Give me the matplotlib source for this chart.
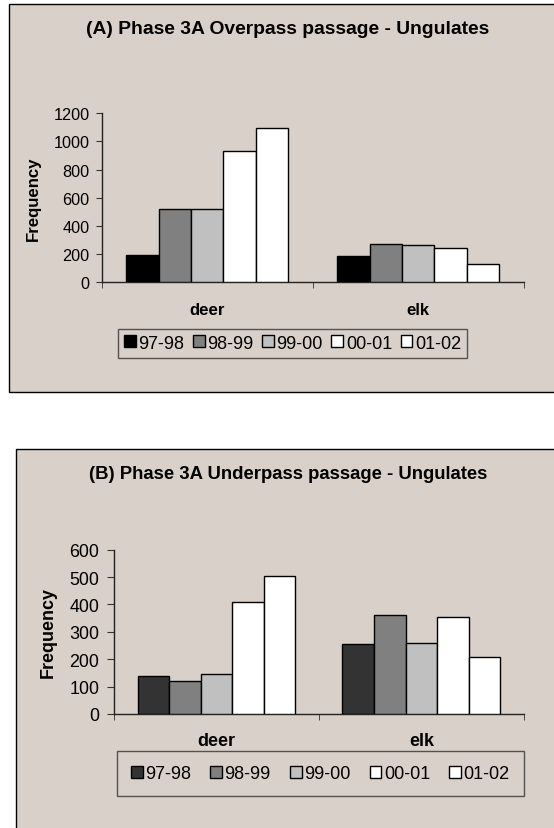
import numpy as np
import matplotlib.pyplot as plt
from matplotlib.patches import Rectangle

plt.rcParams['font.family'] = ['Liberation Sans', 'DejaVu Sans']

species = ["deer", "elk"]
years = ["97-98", "98-99", "99-00", "00-01", "01-02"]

overpass = {
    "97-98": [196, 185],
    "98-99": [520, 270],
    "99-00": [517, 265],
    "00-01": [932, 246],
    "01-02": [1096, 132],
}
underpass = {
    "97-98": [138, 256],
    "98-99": [122, 362],
    "99-00": [147, 259],
    "00-01": [408, 353],
    "01-02": [505, 209],
}

colors_a = ["#000000", "#808080", "#c0c0c0", "#ffffff", "#ffffff"]
colors_b = ["#333333", "#808080", "#c0c0c0", "#ffffff", "#ffffff"]
bg = "#d9d0c9"

W, H = 554, 829
fig = plt.figure(figsize=(W / 100, H / 100), dpi=100)
fig.patch.set_facecolor("white")


def px(x0, y0, x1, y1):
    # pixel box (top-left origin) -> figure fraction [left, bottom, width, height]
    return [x0 / W, 1 - y1 / H, (x1 - x0) / W, (y1 - y0) / H]


# chart frames, behind the axes
for box in [(9.3, 5, 570, 393), (16, 450, 570, 840)]:
    l, b, w, h = px(*box)
    fig.patches.append(Rectangle((l, b), w, h, transform=fig.transFigure,
                                 facecolor=bg, edgecolor="black", lw=1.0, zorder=-5))


def draw(rect, data, colors, ymax, step, title, tsize, title_xy, ylab_xy, fs, lab_fs,
         ticklen, tickpad, labpad, leg_xy, leg_fs, colspace, bpad):
    ax = fig.add_axes(px(*rect))
    ax.set_facecolor("none")
    x = np.arange(len(species))
    w = 1 / 6.5
    for i, yr in enumerate(years):
        ax.bar(x + (i - 2) * w, data[yr], width=w, color=colors[i],
               edgecolor="black", linewidth=1.0, label=yr, zorder=3)
    ax.set_xlim(-0.5, 1.5)
    ax.set_ylim(0, ymax)
    ax.set_yticks(np.arange(0, ymax + 1, step))
    ax.set_xticks(x)
    ax.set_xticklabels(species, fontsize=lab_fs, fontweight="bold")
    ax.set_xticks([-0.5, 0.5, 1.5], minor=True)
    ax.tick_params(axis="x", which="major", length=0, pad=labpad)
    ax.tick_params(axis="x", which="minor", length=4, direction="out", color="#333333")
    ax.tick_params(axis="y", length=ticklen, direction="out", labelsize=fs, pad=tickpad,
                   color="#333333")
    for s in ["top", "right"]:
        ax.spines[s].set_visible(False)
    for s in ["left", "bottom"]:
        ax.spines[s].set_color("#222222")
        ax.spines[s].set_linewidth(1.0)
    fig.text(title_xy[0] / W, 1 - title_xy[1] / H, title, ha="center", va="center",
             fontsize=tsize, fontweight="bold")
    fig.text(ylab_xy[0] / W, 1 - ylab_xy[1] / H, "Frequency", ha="center", va="center",
             rotation=90, fontsize=lab_fs, fontweight="bold")
    leg = ax.legend(loc="center", bbox_to_anchor=(leg_xy[0] / W, 1 - leg_xy[1] / H),
                    bbox_transform=fig.transFigure, ncol=5, fontsize=leg_fs, frameon=True,
                    fancybox=False, handlelength=0.65, handleheight=0.65, handletextpad=0.15,
                    columnspacing=colspace, borderpad=bpad)
    leg.get_frame().set_facecolor(bg)
    leg.get_frame().set_edgecolor("#333333")
    leg.get_frame().set_linewidth(1.0)
    return ax


draw((101.7, 114.3, 523.7, 283.3), overpass, colors_a, 1200, 200,
     "(A) Phase 3A Overpass passage - Ungulates", 13.9, (287.5, 30), (33.3, 198.7),
     11.7, 12.1, 4, 4.8, 14, (292.5, 344.3), 13, 0.47, 0.33)
draw((114, 550.7, 523.7, 715), underpass, colors_b, 600, 100,
     "(B) Phase 3A Underpass passage - Ungulates", 13.3, (287.7, 474.3), (48.3, 632.7),
     12.9, 12.9, 4.8, 5.8, 13, (320.3, 774.7), 13, 1.05, 0.78)

fig.savefig("out.png", dpi=100)
